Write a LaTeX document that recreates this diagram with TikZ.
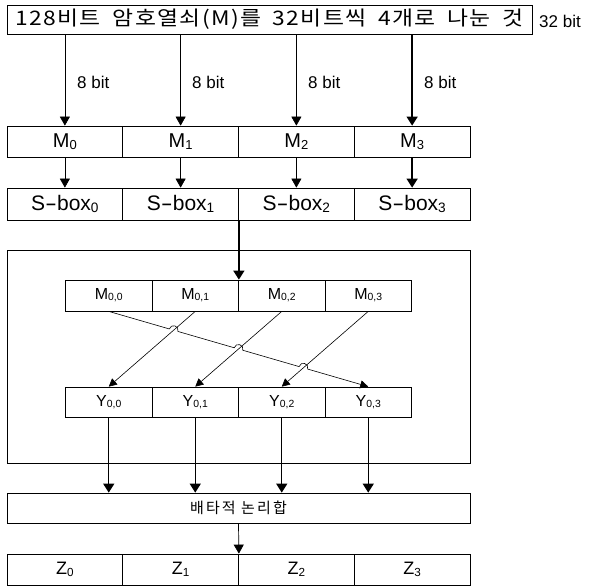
\documentclass[tikz,border=0pt]{standalone}
\usepackage{fontspec}
\setmainfont{Liberation Sans}
\newfontfamily\krtop[LetterSpace=6,WordSpace=1.8]{Noto Sans CJK KR}
\newfontfamily\krxor[LetterSpace=14]{Noto Sans CJK KR}
\usetikzlibrary{arrows.meta,calc}
\newcommand\sbs[1]{\raisebox{-0.08em}{\scalebox{0.65}{#1}}}
\newcommand\wdash{\scalebox{1.7}[1]{-}}
\begin{document}
\begin{tikzpicture}[x=1pt,y=-1pt,
  box/.style={draw, line width=0.75pt, inner sep=0pt},
  wcell/.style={box, minimum width=115.75pt, minimum height=31pt, font=\fontsize{20}{23}\selectfont},
  scell/.style={box, minimum width=86.5pt, minimum height=31pt, font=\fontsize{16}{19}\selectfont},
  zcell/.style={box, minimum width=115.75pt, minimum height=31pt, font=\fontsize{18}{21}\selectfont},
  lbl/.style={anchor=west, inner sep=0pt, font=\fontsize{17}{20}\selectfont},
  thinarr/.style={line width=0.7pt, -{Triangle[width=10pt,length=9pt]}},
  thickarr/.style={line width=1.4pt, -{Triangle[width=11pt,length=9pt]}},
  diagarr/.style={line width=0.6pt, -{Triangle[width=8pt,length=8pt]}}]
\useasboundingbox (0,0) rectangle (593,587);

% top box
\node[box, minimum width=525pt, minimum height=29pt, font=\fontsize{20}{24}\selectfont] (top) at (269.5,19.5)
  {\resizebox{508pt}{\height}{\krtop 128비트 암호열쇠(M)를 32비트씩 4개로 나눈 것}};
\node[anchor=west, inner sep=0pt, font=\fontsize{17}{20}\selectfont] (tb) at (539,21) {32 bit};

% M row
\node[wcell] (m0) at (64.875,141.5) {M\sbs{0}};
\node[wcell] (m1) at (180.625,141.5) {M\sbs{1}};
\node[wcell] (m2) at (296.375,141.5) {M\sbs{2}};
\node[wcell] (m3) at (412.125,141.5) {M\sbs{3}};

\draw[thinarr] (top.south -| m0) -- (m0.north);
\draw[thinarr] (top.south -| m1) -- (m1.north);
\draw[thinarr] (top.south -| m2) -- (m2.north);
\draw[thickarr] (top.south -| m3) -- (m3.north);

\node[lbl] (l0) at (77,82) {8 bit};
\node[lbl] (l1) at (192,82) {8 bit};
\node[lbl] (l2) at (308,82) {8 bit};
\node[lbl] (l3) at (424,82) {8 bit};

% S-box row
\node[wcell, minimum height=32pt, font=\fontsize{21}{24}\selectfont] (s0) at (64.875,204) {S\wdash box\sbs{0}};
\node[wcell, minimum height=32pt, font=\fontsize{21}{24}\selectfont] (s1) at (180.625,204) {S\wdash box\sbs{1}};
\node[wcell, minimum height=32pt, font=\fontsize{21}{24}\selectfont] (s2) at (296.375,204) {S\wdash box\sbs{2}};
\node[wcell, minimum height=32pt, font=\fontsize{21}{24}\selectfont] (s3) at (412.125,204) {S\wdash box\sbs{3}};

\draw[thinarr] (m0.south) -- (s0.north);
\draw[thinarr] (m1.south) -- (s1.north);
\draw[thinarr] (m2.south) -- (s2.north);
\draw[thickarr] (m3.south) -- (s3.north);

% frame
\node[box, minimum width=463pt, minimum height=213pt] (frame) at (238.5,356.5) {};

% M0 row
\node[scell] (mm00) at (108.75,295.5) {M\sbs{0,0}};
\node[scell] (mm01) at (195.25,295.5) {M\sbs{0,1}};
\node[scell] (mm02) at (281.75,295.5) {M\sbs{0,2}};
\node[scell] (mm03) at (368.25,295.5) {M\sbs{0,3}};

\draw[thickarr] (s1.south east) -- (mm01.north east);

% Y row
\node[scell, minimum height=30pt] (y00) at (108.75,402) {Y\sbs{0,0}};
\node[scell, minimum height=30pt] (y01) at (195.25,402) {Y\sbs{0,1}};
\node[scell, minimum height=30pt] (y02) at (281.75,402) {Y\sbs{0,2}};
\node[scell, minimum height=30pt] (y03) at (368.25,402) {Y\sbs{0,3}};

\draw[diagarr] (mm01.south) -- (y00.north);
\draw[diagarr] (mm02.south) -- (y01.north);
\draw[diagarr] (mm03.south) -- (y02.north);

\coordinate (h1s) at ($(mm00.south)!0.2334!(y03.north)$);
\coordinate (h1e) at ($(mm00.south)!0.2666!(y03.north)$);
\coordinate (h2s) at ($(mm00.south)!0.4834!(y03.north)$);
\coordinate (h2e) at ($(mm00.south)!0.5166!(y03.north)$);
\coordinate (h3s) at ($(mm00.south)!0.7334!(y03.north)$);
\coordinate (h3e) at ($(mm00.south)!0.7666!(y03.north)$);
\draw[diagarr] (mm00.south) -- (h1s)
  .. controls ($(h1s)!6pt!90:(h1e)$) and ($(h1e)!6pt!-90:(h1s)$) .. (h1e) -- (h2s)
  .. controls ($(h2s)!6pt!90:(h2e)$) and ($(h2e)!6pt!-90:(h2s)$) .. (h2e) -- (h3s)
  .. controls ($(h3s)!6pt!90:(h3e)$) and ($(h3e)!6pt!-90:(h3s)$) .. (h3e) -- (y03.north);

% XOR
\node[box, minimum width=463pt, minimum height=30pt, font=\fontsize{15}{18}\selectfont] (xor) at (238.5,508) {\krxor 배타적 논리합};

\draw[thickarr] (y00.south) -- (y00.south |- xor.north);
\draw[thickarr] (y01.south) -- (y01.south |- xor.north);
\draw[thickarr] (y02.south) -- (y02.south |- xor.north);
\draw[thickarr] (y03.south) -- (y03.south |- xor.north);

% Z row
\node[zcell] (z0) at (64.875,569.5) {Z\sbs{0}};
\node[zcell] (z1) at (180.625,569.5) {Z\sbs{1}};
\node[zcell] (z2) at (296.375,569.5) {Z\sbs{2}};
\node[zcell] (z3) at (412.125,569.5) {Z\sbs{3}};

\draw[thinarr] (xor.south) -- (z1.north east);
\end{tikzpicture}
\end{document}
